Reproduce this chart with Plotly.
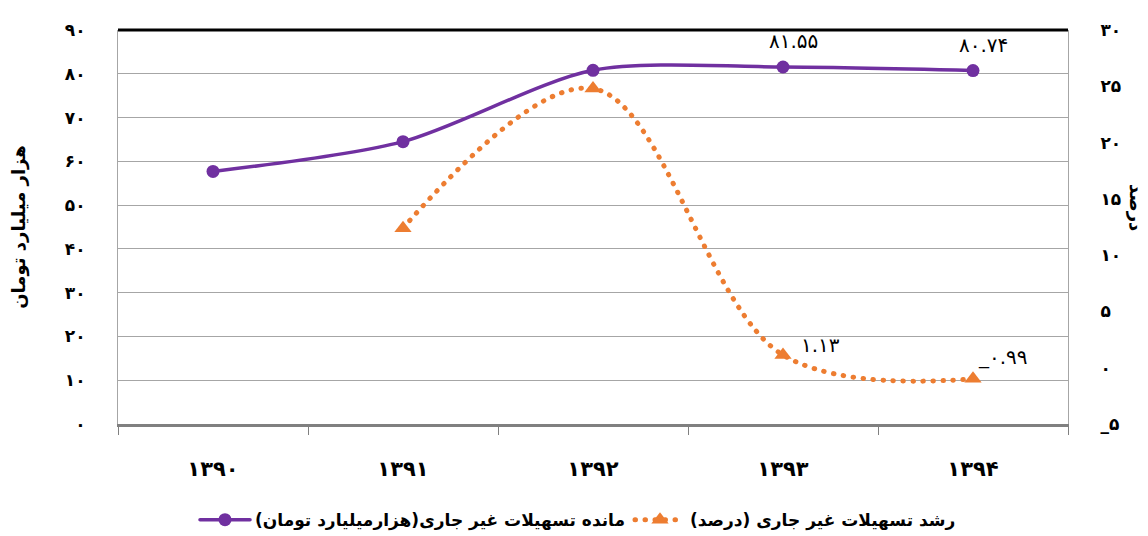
import plotly.graph_objects as go

years = ["۱۳۹۰", "۱۳۹۱", "۱۳۹۲", "۱۳۹۳", "۱۳۹۴"]
balance = [57.7, 64.5, 80.8, 81.55, 80.74]          # هزار میلیارد تومان
growth = [None, 12.4, 24.8, 1.13, -0.99]             # درصد
balance_labels = ["", "", "", "۸۱.۵۵", "۸۰.۷۴"]
growth_labels = ["", "", "", "۱.۱۳", "_۰.۹۹"]
left_ticks = [0, 10, 20, 30, 40, 50, 60, 70, 80, 90]
right_ticks = [-5, 0, 5, 10, 15, 20, 25, 30]

PD = str.maketrans("0123456789-", "۰۱۲۳۴۵۶۷۸۹_")
def fa(v):
    return str(v).translate(PD)

FONT = "DejaVu Sans"
PURPLE = "#7030A0"
ORANGE = "#ED7D31"

fig = go.Figure()
fig.add_trace(go.Scatter(
    x=years, y=balance, name="مانده تسهیلات غیر جاری(هزارمیلیارد تومان)",
    mode="lines+markers", line=dict(color=PURPLE, width=3.5, shape="spline", smoothing=0.8),
    marker=dict(symbol="circle", size=13, color=PURPLE),
    yaxis="y"))
fig.add_trace(go.Scatter(
    x=years, y=growth, name="رشد تسهیلات غیر جاری (درصد)",
    mode="lines+markers", line=dict(color=ORANGE, width=5, dash="0.5px,9.5px", shape="spline", smoothing=1.0),
    marker=dict(symbol="triangle-up", size=15, color=ORANGE),
    connectgaps=False, yaxis="y2"))

for x, y, t in zip(years, balance, balance_labels):
    if t:
        fig.add_annotation(x=x, y=y, yref="y", text=t, showarrow=False,
                           xshift=10, yshift=26, font=dict(family=FONT, size=20, color="black"))
growth_shifts = {"۱.۱۳": (16, 10), "_۰.۹۹": (3, 22)}
for x, y, t in zip(years, growth, growth_labels):
    if t:
        dx, dy = growth_shifts[t]
        fig.add_annotation(x=x, y=y, yref="y2", text=t, showarrow=False, xanchor="left",
                           xshift=dx, yshift=dy, font=dict(family=FONT, size=20, color="black"))

fig.update_layout(
    width=1140, height=528,
    margin=dict(l=110, r=80, t=22, b=112),
    paper_bgcolor="white", plot_bgcolor="white",
    font=dict(family=FONT, color="black"),
    xaxis=dict(type="category", range=[-0.5, 4.5], tickson="boundaries",
               ticks="outside", ticklen=8, tickcolor="#808080",
               showline=True, linecolor="#808080", linewidth=3,
               showgrid=False, ticklabelstandoff=24, automargin=False,
               tickfont=dict(family=FONT, size=21, weight="bold")),
    yaxis=dict(range=[0, 90], tickvals=left_ticks, ticktext=[fa(v) for v in left_ticks],
               showgrid=True, gridcolor="#A6A6A6", gridwidth=1,
               showline=True, linecolor="#A6A6A6", linewidth=1,
               ticks="", ticklabelstandoff=28, zeroline=False, automargin=False,
               tickfont=dict(family=FONT, size=17, weight="bold"),
               title=dict(text="هزار میلیارد تومان", font=dict(family=FONT, size=18, weight="bold"),
                          standoff=36)),
    yaxis2=dict(range=[-5, 30], tickvals=right_ticks, ticktext=[fa(v) for v in right_ticks],
                overlaying="y", side="right", showgrid=False, zeroline=False,
                showline=True, linecolor="#A6A6A6", linewidth=1, automargin=False,
                ticks="", ticklabelstandoff=28,
                tickfont=dict(family=FONT, size=17, weight="bold")),
    legend=dict(orientation="h", x=0.5, xanchor="center", xref="container",
                y=0.03, yanchor="middle", yref="container",
                font=dict(family=FONT, size=17, weight="bold"), traceorder="normal",
                itemwidth=50),
    showlegend=True,
)

fig.add_shape(type="line", xref="paper", yref="paper", x0=0, x1=1, y0=1, y1=1,
              line=dict(color="black", width=3))
fig.add_annotation(text="درصد", xref="paper", yref="paper", x=1.072, y=0.55,
                   xanchor="center", yanchor="middle",
                   textangle=90, showarrow=False,
                   font=dict(family=FONT, size=18, weight="bold"))

fig.write_html("out.html", post_script=(
    "document.querySelectorAll('.js-line').forEach(function(p){"
    "p.style.strokeLinecap='round';});"))
